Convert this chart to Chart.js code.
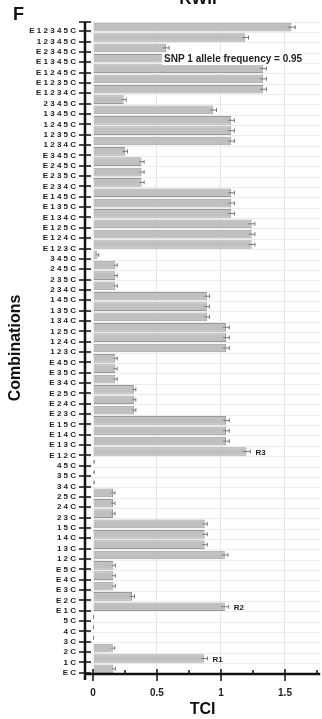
<!DOCTYPE html>
<html>
<head>
<meta charset="utf-8">
<script src="https://cdn.jsdelivr.net/npm/chart.js@4"></script>
<style>
  html, body { margin: 0; padding: 0; background: #fff; }
  canvas { display: block; }
</style>
</head>
<body>
<canvas id="tciChart" width="322" height="719"></canvas>
<script>
const combos = [
    'E 1 2 3 4 5 C', '1 2 3 4 5 C', 'E 2 3 4 5 C', 'E 1 3 4 5 C', 'E 1 2 4 5 C', 'E 1 2 3 5 C', 'E 1 2 3 4 C',
    '2 3 4 5 C', '1 3 4 5 C', '1 2 4 5 C', '1 2 3 5 C', '1 2 3 4 C',
    'E 3 4 5 C', 'E 2 4 5 C', 'E 2 3 5 C', 'E 2 3 4 C', 'E 1 4 5 C', 'E 1 3 5 C', 'E 1 3 4 C', 'E 1 2 5 C', 'E 1 2 4 C', 'E 1 2 3 C',
    '3 4 5 C', '2 4 5 C', '2 3 5 C', '2 3 4 C', '1 4 5 C', '1 3 5 C', '1 3 4 C', '1 2 5 C', '1 2 4 C', '1 2 3 C',
    'E 4 5 C', 'E 3 5 C', 'E 3 4 C', 'E 2 5 C', 'E 2 4 C', 'E 2 3 C', 'E 1 5 C', 'E 1 4 C', 'E 1 3 C', 'E 1 2 C',
    '4 5 C', '3 5 C', '3 4 C', '2 5 C', '2 4 C', '2 3 C', '1 5 C', '1 4 C', '1 3 C', '1 2 C',
    'E 5 C', 'E 4 C', 'E 3 C', 'E 2 C', 'E 1 C',
    '5 C', '4 C', '3 C', '2 C', '1 C', 'E C'
];

const tci = [
    1.55, 1.19, 0.57, 1.33, 1.33, 1.33, 1.33,
    0.24, 0.94, 1.08, 1.08, 1.08,
    0.25, 0.38, 0.38, 0.38, 1.08, 1.08, 1.08, 1.24, 1.24, 1.24,
    0.035, 0.175, 0.175, 0.175, 0.89, 0.89, 0.89, 1.04, 1.04, 1.04,
    0.175, 0.175, 0.175, 0.32, 0.32, 0.32, 1.04, 1.04, 1.04, 1.20,
    0.005, 0.005, 0.005, 0.157, 0.157, 0.157, 0.873, 0.873, 0.873, 1.03,
    0.16, 0.16, 0.16, 0.305, 1.03,
    0.003, 0.003, 0.003, 0.155, 0.87, 0.16
];

const tciErr = [
    0.03, 0.025, 0.025, 0.025, 0.025, 0.025, 0.025,
    0.02, 0.025, 0.025, 0.025, 0.025,
    0.02, 0.02, 0.02, 0.02, 0.025, 0.025, 0.025, 0.025, 0.025, 0.025,
    0.01, 0.015, 0.015, 0.015, 0.02, 0.02, 0.02, 0.025, 0.025, 0.025,
    0.015, 0.015, 0.015, 0.015, 0.015, 0.015, 0.025, 0.025, 0.025, 0.03,
    0.005, 0.005, 0.005, 0.015, 0.015, 0.015, 0.02, 0.02, 0.02, 0.025,
    0.015, 0.015, 0.015, 0.02, 0.03,
    0.002, 0.002, 0.002, 0.015, 0.025, 0.015
];

const majorTicks = [0, 0.5, 1, 1.5];
const minorTicks = [0.25, 0.75, 1.25, 1.75];

const noteCombos = ['E 1 2 C', 'E 1 C', '1 C'];
const noteTexts = ['R3', 'R2', 'R1'];

const panelLetter = 'F';
const panelTitle = 'RWII';
const freqText = 'SNP 1 allele frequency = 0.95';

const LABEL_SHIFT = 4;

const decorPlugin = {
    id: 'decor',
    afterDraw(chart) {
        const ctx = chart.ctx;
        const xs = chart.scales.x;
        const ys = chart.scales.y;
        const area = chart.chartArea;
        const x0 = area.left;
        const yb = area.bottom;
        ctx.save();

        // error bars
        ctx.strokeStyle = '#7a7a7a';
        ctx.lineWidth = 1;
        tci.forEach((v, i) => {
            const yc = ys.getPixelForValue(i);
            const xa = xs.getPixelForValue(v - tciErr[i]);
            const xb = xs.getPixelForValue(v + tciErr[i]);
            ctx.beginPath();
            ctx.moveTo(xa, yc); ctx.lineTo(xb, yc);
            ctx.moveTo(xb, yc - 2); ctx.lineTo(xb, yc + 2);
            ctx.stroke();
        });

        // R notes
        ctx.fillStyle = '#222';
        ctx.font = 'bold 8px "Liberation Sans", Arial, sans-serif';
        ctx.textBaseline = 'middle';
        ctx.textAlign = 'left';
        noteCombos.forEach((c, k) => {
            const i = combos.indexOf(c);
            const xp = xs.getPixelForValue(tci[i] + tciErr[i]) + 5;
            ctx.fillText(noteTexts[k], xp, ys.getPixelForValue(i) + 1);
        });

        // frequency note on white box
        ctx.font = 'bold 10px "Liberation Sans", Arial, sans-serif';
        const tw = ctx.measureText(freqText).width;
        ctx.fillStyle = '#fff';
        ctx.fillRect(162, 53, tw + 4, 12);
        ctx.fillStyle = '#222';
        ctx.fillText(freqText, 164, 59.5);

        // axes lines
        ctx.strokeStyle = '#111';
        ctx.lineWidth = 2.5;
        ctx.beginPath();
        ctx.moveTo(x0, area.top); ctx.lineTo(x0, yb + 6);
        ctx.moveTo(x0 - 1, yb); ctx.lineTo(area.right, yb);
        ctx.stroke();

        ctx.lineWidth = 1.5;
        ctx.beginPath();
        ctx.moveTo(x0 - 6, area.top); ctx.lineTo(x0 + 6, area.top);
        combos.forEach((c, i) => {
            const yp = Math.round(ys.getPixelForValue(i) + LABEL_SHIFT);
            ctx.moveTo(x0 - 6, yp); ctx.lineTo(x0 + 6, yp);
        });
        majorTicks.forEach(v => {
            const xp = Math.round(xs.getPixelForValue(v));
            ctx.moveTo(xp, yb - 5); ctx.lineTo(xp, yb + 7);
        });
        minorTicks.forEach(v => {
            const xp = Math.round(xs.getPixelForValue(v));
            ctx.moveTo(xp, yb - 4); ctx.lineTo(xp, yb);
        });
        ctx.stroke();

        // panel letter and title
        ctx.fillStyle = '#111';
        ctx.textBaseline = 'alphabetic';
        ctx.font = 'bold 18px "Liberation Sans", Arial, sans-serif';
        ctx.fillText(panelLetter, 13, 20);
        ctx.textAlign = 'center';
        ctx.font = 'bold 17px "Liberation Sans", Arial, sans-serif';
        ctx.fillText(panelTitle, 198, 4);
        ctx.restore();
    }
};

const ctx = document.getElementById('tciChart').getContext('2d');

const chart = new Chart(ctx, {
    type: 'bar',
    data: {
        labels: combos,
        datasets: [
            {
                label: 'TCI',
                data: tci,
                backgroundColor: '#c0c0c0',
                borderColor: '#9a9a9a',
                borderWidth: 1,
                barPercentage: 0.84,
                categoryPercentage: 1.0
            }
        ]
    },
    options: {
        indexAxis: 'y',
        responsive: false,
        animation: false,
        devicePixelRatio: 1,
        layout: { padding: { top: 22, right: 0, left: 0, bottom: 0 } },
        plugins: {
            legend: { display: false },
            tooltip: { enabled: false }
        },
        scales: {
            x: {
                type: 'linear',
                min: -0.062,
                max: 1.775,
                afterBuildTicks: scale => {
                    scale.ticks = [...majorTicks, ...minorTicks].sort((a, b) => a - b).map(v => ({ value: v }));
                },
                afterFit: scale => { scale.height = 45; },
                border: { display: false },
                grid: {
                    color: c => (c.tick && majorTicks.includes(c.tick.value) && c.tick.value !== 0) ? '#e6e6e6' : 'rgba(0,0,0,0)',
                    tickColor: 'rgba(0,0,0,0)',
                    tickLength: 8
                },
                ticks: {
                    padding: 5,
                    color: '#222',
                    font: { family: '"Liberation Sans", Arial, sans-serif', size: 10, weight: 'bold' },
                    callback: v => majorTicks.includes(v) ? String(v) : ''
                },
                title: {
                    display: true,
                    text: 'TCI',
                    color: '#111',
                    padding: 0,
                    font: { family: '"Liberation Sans", Arial, sans-serif', size: 16, weight: 'bold' }
                }
            },
            y: {
                afterFit: scale => { scale.width = 85; },
                border: { display: false },
                grid: {
                    offset: true,
                    color: '#ececec',
                    tickColor: 'rgba(0,0,0,0)',
                    tickLength: 6
                },
                ticks: {
                    autoSkip: false,
                    padding: 3,
                    labelOffset: LABEL_SHIFT,
                    color: '#222',
                    font: { family: '"Liberation Sans", Arial, sans-serif', size: 8, weight: 'bold' }
                },
                title: {
                    display: true,
                    text: 'Combinations',
                    color: '#111',
                    padding: { top: 6, bottom: 0 },
                    font: { family: '"Liberation Sans", Arial, sans-serif', size: 16, weight: 'bold' }
                }
            }
        }
    },
    plugins: [decorPlugin]
});
</script>
</body>
</html>
